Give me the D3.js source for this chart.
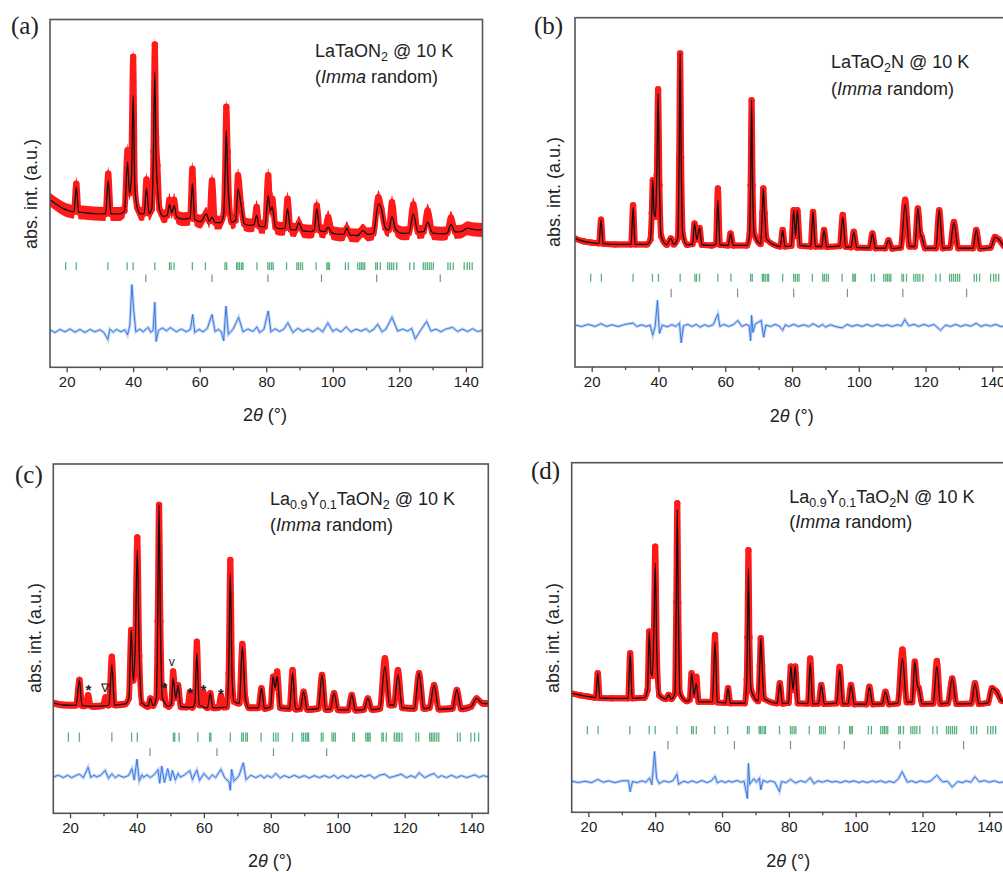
<!DOCTYPE html>
<html>
<head>
<meta charset="utf-8">
<script src="https://cdn.jsdelivr.net/npm/d3@7/dist/d3.min.js"></script>
<style>
  body { margin: 0; background: #fff; }
  svg { display: block; }
  text { font-family: "Liberation Sans", Arial, sans-serif; fill: #222; }
  .plabel { font-family: "Liberation Serif", "DejaVu Serif", serif; font-size: 25px; }
</style>
</head>
<body>
<svg id="chart" width="1003" height="872"></svg>
<script>
// ---- axis ticks ----
const xTicksMajor = [20, 40, 60, 80, 100, 120, 140];
const xTicksMinor = [30, 50, 70, 90, 110, 130];

// ---- reflection markers (2theta) ----
const greenTicks = [19.7, 22.9, 32.4, 38.2, 40.0, 46.5, 50.9, 51.4, 52.3, 57.8, 61.7, 67.6, 68.1,
  71.1, 71.5, 72.0, 72.6, 73.0, 77.2, 80.5, 81.0, 81.6, 82.1, 86.1, 89.2, 89.7, 90.3, 90.9, 95.0,
  98.2, 98.6, 99.0, 103.8, 104.7, 107.5, 108.1, 108.6, 109.1, 109.6, 112.9, 113.4, 114.3, 116.5,
  117.1, 117.7, 118.3, 119.2, 123.1, 124.4, 127.2, 127.8, 128.4, 129.0, 129.6, 130.2, 134.6, 135.3,
  136.2, 139.5, 140.4, 141.1, 141.9];
const greenTicksC = [19.5, 22.8, 32.5, 38.4, 40.1, 50.9, 51.3, 52.6, 58.2, 61.7, 62.1, 67.9, 71.3,
  71.8, 72.5, 73.0, 77.1, 80.8, 81.5, 82.2, 86.5, 89.3, 89.8, 90.4, 90.9, 91.3, 95.1, 95.6, 98.3,
  98.8, 99.3, 104.5, 105.0, 108.4, 108.9, 109.3, 109.7, 113.2, 113.6, 114.5, 116.9, 117.5, 118.0,
  118.5, 119.2, 123.4, 124.2, 127.5, 128.0, 128.5, 129.0, 129.6, 130.2, 135.8, 136.6, 139.8, 140.9, 142.1];
const greyTicks = [43.8, 63.7, 80.5, 96.6, 113.2, 132.3];
const greyTicksC = [43.9, 63.9, 80.8, 96.7];

// ---- (a) LaTaON2 ----
const aCalc = [[15,48.2],[17,46.8],[19,45.6],[21,44.9],[22.2,44.7],[22.9,51.8],[23.6,44.6],[25,44.5],
  [28,44.2],[31.7,44.1],[32.5,53.7],[33.3,44.1],[36,44.1],[37.4,45],[38.3,59.0],[38.9,50],[39.5,55],
  [40.0,78.2],[40.5,52],[41.2,46],[42.2,44.1],[43.3,44.2],[44.0,51.5],[44.8,44.2],[45.6,45.5],[46.1,62],
  [46.5,84.9],[46.9,60],[47.3,52],[47.9,45.5],[49,43.4],[50.2,43.6],[50.9,46.8],[51.6,44.5],[52.3,46.5],
  [53.1,43.2],[55,42.6],[57.1,42.8],[57.8,52.8],[58.5,42.6],[60.3,41.9],[62.0,44.1],[62.9,42.0],
  [63.7,43.2],[64.6,41.6],[66.3,41.6],[67.2,44],[67.6,55],[68.0,68.1],[68.4,55],[68.8,48],[69.6,41.7],
  [70.8,42.2],[71.5,51.3],[72.4,47.0],[73.4,41.2],[75,40.8],[76.3,41],[77.1,43.7],[77.9,40.5],
  [79.6,40.4],[80.6,49.4],[81.2,45],[81.8,46.1],[82.8,40.2],[84.5,39.8],[85.6,40],[86.4,45.6],
  [87.3,39.6],[88.8,39.5],[89.8,41.5],[91,39.2],[93.5,39.0],[94.4,39.5],[95.2,45.6],[96.1,39.3],
  [97.6,39.0],[98.6,40.3],[99.8,38.6],[102.5,38.2],[103.4,38.3],[104.2,40.0],[105.2,38.0],[107.5,37.9],
  [109,39.3],[110.5,38.2],[112.2,38.5],[113.7,47.0],[114.6,45.6],[115.8,40.0],[116.8,39.5],[117.8,43.4],
  [118.9,39.6],[121,38.5],[122.9,38.6],[124.2,44.1],[125.6,38.9],[127.3,39.0],[128.5,41.7],[130,38.6],
  [133,38.4],[134.4,38.6],[135.5,41.1],[136.8,38.9],[138.5,39.0],[140.5,40.0],[142.5,39.6],[145,39.5]];
const aObs = [[22.9,52.8],[32.5,55.7],[38.3,62.4],[39.5,62],[40.0,89.3],[44.0,54.0],[46.5,92.8],
  [46.9,66],[47.3,58],[50.9,48.2],[52.3,48.2],[57.8,57.1],[63.7,53.7],[68.0,74.9],[68.4,62],[71.5,55.2],
  [77.1,46.1],[80.6,55.2],[81.8,48.5],[86.4,48.5],[95.2,46.5],[98.6,43.2],[113.7,48.9],[117.8,47.5],
  [124.2,46.8],[128.5,45.1],[135.5,43.0]];
const aDiff = [[15,10.8],[16.5,10.0],[18,10.9],[19.5,10.2],[21,11.0],[22.5,10.1],[24,10.9],[25.5,10.0],
  [27,10.9],[28.5,10.2],[30,10.8],[31.2,10.0],[32.4,8.0],[33,11],[34,10.1],[35,10.9],[36.3,10.2],
  [37.5,10.8],[38.3,9.3],[39.0,12],[39.6,23.8],[40.2,16],[40.8,10.2],[42,11.0],[43,10.2],[44.5,11.5],
  [45.3,10.1],[46.0,10.6],[46.5,18.7],[46.9,7.4],[47.6,10.6],[48.8,11.3],[50,10.5],[51.2,11.4],[53,10.2],
  [54.5,11.0],[56,10.2],[57.2,10.9],[57.9,15.2],[58.5,10.0],[59.8,10.9],[61,10.2],[62.3,11.2],[63.7,15.2],
  [64.6,10.3],[65.6,10.9],[66.5,10.2],[67.2,7.6],[67.9,17.6],[68.6,9.5],[70,10.9],[71.7,14.4],[73,10.2],
  [74.5,11.0],[76,10.3],[77.2,11.6],[78,10.0],[79.3,10.9],[80.6,16.2],[81.4,10.2],[82.7,11.1],[84,10.3],
  [85.3,11.0],[86.5,12.8],[88,10.0],[89.5,11.2],[91,10.3],[92.5,11.0],[94,10.2],[95.5,11.3],[97,10.2],
  [98.5,12.8],[100,10.3],[101,11.0],[102.5,10.2],[104,11.6],[105.5,10.2],[107,11.0],[108.5,10.4],
  [110,11.1],[111,10.2],[112.3,10.9],[113.5,12.4],[114.8,10.2],[116,11.0],[117.8,14.4],[119.5,10.4],
  [121,11.0],[122.5,10.4],[123.7,11.2],[124.8,8.2],[126.5,10.8],[128.2,13.2],[129.5,10.4],[131,11.0],
  [132.5,10.2],[134,11.0],[136,11.5],[137.5,10.3],[139,11.0],[140.5,10.3],[142,11.1],[143.5,10.3],[145,10.6]];

// ---- (b) LaTaO2N ----
const bCalc = [[15,36.8],[17.5,36.0],[20,35.6],[22.2,35.4],[22.8,42.2],[23.4,35.3],[27,35.1],[31.8,35.1],
  [32.4,45.7],[33.0,35.1],[36.5,35.1],[37.6,36.5],[38.0,44],[38.3,53.5],[38.7,44],[39.1,43],[39.5,55],
  [39.9,78.3],[40.3,52],[40.8,37.5],[42.5,35.0],[43.7,36.8],[44.6,35.1],[45.8,37],[46.2,60],[46.5,89.8],
  [46.8,60],[47.3,38],[48.5,35.0],[50.2,35.2],[50.8,41.1],[51.5,36.5],[52.3,39.8],[53.0,35],[56,34.8],
  [57.2,35.2],[57.8,47.8],[58.4,35.0],[60.9,34.8],[61.6,38.2],[62.4,34.8],[66.5,34.8],[67.3,38],
  [67.6,52],[67.9,76.4],[68.2,52],[68.7,38],[70.6,35.2],[71.1,44],[71.4,51.1],[71.8,44],[72.4,36.5],
  [76.5,34.5],[77.2,39.2],[77.9,34.5],[79.8,34.7],[80.5,44.9],[81.05,37.5],[81.6,44.9],[82.4,34.8],
  [85.6,34.5],[86.3,44.4],[87.0,34.5],[88.9,34.5],[89.6,39.2],[90.4,34.4],[94.3,34.6],[95.2,43.0],
  [96.1,34.4],[97.7,34.3],[98.5,38.7],[99.4,34.2],[103.2,34.1],[104.1,38.2],[105.0,34.0],[107.9,34.0],
  [108.9,36.3],[110,33.9],[112.6,34.2],[113.9,46.6],[115.2,34.5],[116.8,34.5],[117.7,45.4],[118.5,38],
  [118.9,37.2],[119.9,34.0],[123.1,34.0],[124.1,44.9],[125.2,34.0],[127.3,34.2],[128.5,41.5],[129.8,34.0],
  [134.2,34.0],[135.2,39.2],[136.3,33.9],[139.5,34.2],[140.8,37.2],[142,36.5],[143.5,34.6],[145,34.2]];
const bObs = [[32.4,46.3],[39.9,79.5],[57.8,51.1],[95.2,43.5],[113.9,47.9]];
const bDiff = [[15,12.0],[17,11.6],[19,12.2],[21,11.6],[22.8,12.4],[24.5,11.6],[26,12.1],[28,11.6],
  [30,12.2],[32.4,12.6],[33.5,11.6],[35,12.1],[36.3,11.6],[37.5,12.0],[38.3,9.1],[39.0,11.5],[39.7,19.1],
  [40.3,9.6],[41.2,12],[42.6,11.5],[44,12.1],[45.2,11.6],[46.3,12.6],[46.8,6.9],[47.5,11.8],[48.8,12.2],
  [50,11.6],[51.3,12.2],[52.5,11.4],[53.8,12.1],[55,11.6],[56.4,12.1],[57.8,15.2],[58.4,11.6],[59.6,12.2],
  [61,11.6],[62.4,12.1],[63.8,13.3],[65,11.6],[66.2,12.2],[67.2,11.8],[67.6,7.5],[67.9,14.8],[68.3,9.9],
  [69,12.3],[70.8,13.3],[71.5,8.5],[72.2,12],[73.6,11.6],[75,12.2],[76.2,11.7],[77.2,10.5],[78,12.1],
  [79,11.6],[80.5,12.2],[82,11.6],[83.5,12.1],[85,11.6],[86.3,12.4],[88,11.5],[89.2,12.2],[90,11.4],
  [91.5,12.1],[93,11.6],[95,11.2],[96.5,12.2],[98,11.6],[99.5,12.1],[101,11.6],[102.5,12.2],[104,11.6],
  [105.5,12.2],[107,11.7],[108.5,12.1],[110,11.6],[111.5,12.1],[112.8,11.8],[113.8,13.6],[115,11.8],
  [116.5,12.2],[118,11.6],[119.5,12.2],[121,11.7],[122.5,12.2],[124.5,10.5],[126,12],[127.5,11.6],
  [129,12.2],[130.5,11.6],[132,12.1],[133.5,11.7],[135.2,12.5],[136.6,11.6],[138,12.1],[139.5,11.7],
  [141,12.2],[142.5,11.6],[145,11.9]];

// ---- (c) La0.9Y0.1TaON2 ----
const cCalc = [[15,31.6],[18,31.0],[21.8,30.9],[22.8,38.2],[23.6,30.8],[27,30.6],[31.6,30.9],[32.5,42.5],
  [33.3,31.0],[36.5,31.3],[37.6,33],[38.3,52.5],[38.9,38],[39.5,48],[40.1,75.4],[40.7,45],[41.5,31.5],
  [43.3,30.6],[44.0,32.9],[44.8,30.8],[45.8,33],[46.2,55],[46.6,88.3],[47.0,55],[47.6,33],[49.5,30.6],
  [50.3,31.5],[50.8,38.6],[51.6,33],[52.3,36.7],[53.1,30.5],[56.5,30.3],[57.3,31.5],[57.9,45.8],
  [58.6,31],[61.1,30.2],[61.9,34.4],[62.7,30.2],[66.8,30.4],[67.4,40],[67.9,68.7],[68.4,40],[69.0,32],
  [70.6,31.5],[71.5,47.7],[72.4,33],[73.4,30.2],[76.3,30.2],[77.2,35.8],[78.1,30.0],[79.9,30.4],
  [80.7,39.1],[81.3,36],[81.9,39.1],[82.8,30.2],[85.6,30.0],[86.5,40.1],[87.4,29.8],[88.8,29.9],
  [89.8,34.8],[90.9,29.7],[94.2,30],[95.3,39.6],[96.4,29.7],[97.8,29.8],[98.9,34.4],[100.1,29.6],
  [103.1,29.6],[104.2,33.9],[105.3,29.5],[107.8,29.7],[109,32.9],[110.2,29.7],[112.6,30],[114.1,42.0],
  [115.5,31],[116.8,31],[118,39.6],[119.3,30.2],[122.9,30],[124.3,40.1],[125.7,30],[127.4,30.2],
  [128.8,36.7],[130.2,29.8],[134.3,30],[135.6,35.3],[136.9,29.9],[139.8,30.5],[141.5,32.9],[143.2,31.5],
  [145,31.4]];
const cObs = [[24.6,30.8],[25.4,33.8],[26.2,30.7],[29.8,30.8],[30.6,33.2],[31.2,31.0],[32.5,44.8],
  [40.1,79.0],[47.9,36.5],[48.7,31],[50.8,40.6],[55.1,30.4],[55.8,34.6],[56.5,30.3],[57.9,49.1],
  [59.3,31],[59.9,34.5],[60.5,30.5],[64.4,30.3],[65.1,33.6],[65.8,30.4],[67.9,72.5],[71.5,48.5],
  [81.9,40.6],[86.5,41],[114.1,44.4],[118,41.0]];
const cDiff = [[15,10.4],[16.5,10.9],[18,10.2],[19.3,10.9],[20.5,10.2],[21.7,10.8],[22.8,11.2],[24,10.2],
  [25.4,13.2],[26.2,10.3],[27.2,10.9],[28,10.4],[29.2,10.9],[30.5,12.3],[31.5,10.0],[32.5,11.3],
  [33.5,10.2],[34.5,10.9],[36,10.3],[37.5,10.8],[38.5,12.8],[39.2,9.5],[40.0,15.5],[40.7,9.2],[41.5,11],
  [42,10.3],[43,11.0],[44,10.2],[45.2,11.1],[46.3,12.5],[46.8,8.6],[47.4,13.5],[48.2,8.8],[49.2,12.8],
  [50.0,9.3],[50.6,12.3],[51.5,9.5],[52.3,11.4],[53,10.3],[54.4,11.1],[55.8,12.2],[56.6,9.6],[57.2,11.0],
  [57.9,12.4],[58.7,9.4],[60,11.4],[61.5,9.8],[62.5,11.0],[63.5,10.2],[65.1,12.6],[66.2,10.2],[67.5,9.0],
  [67.9,6.6],[68.3,12.6],[69,9.2],[70.5,10.8],[71.8,14.5],[72.6,9.6],[74,10.9],[75.5,10.2],[77,10.9],
  [78,10.1],[79,10.8],[80.3,10.2],[81.5,11.4],[82.8,10.1],[84,10.8],[85.5,10.2],[87,10.9],[88.5,10.2],
  [90,10.8],[91.5,10.1],[93,10.8],[94.5,10.2],[96,10.8],[97.5,10.2],[99,10.9],[100,10.0],[101.5,10.8],
  [103,10.1],[104,10.8],[105.5,10.2],[107,10.9],[108,10.4],[109.5,11.0],[111,10.0],[112.5,10.9],
  [114,11.2],[115.5,10.2],[117,10.6],[119,11.2],[120.5,10.2],[122,10.8],[123.2,10.2],[124.3,11.6],
  [126,10.2],[127.4,10.9],[128.8,11.4],[130,10.2],[131,10.8],[132.5,10.2],[134,10.9],[135.5,10.2],
  [137,10.8],[138.5,10.2],[140,10.7],[141,11.0],[142.3,10.3],[143.5,10.8],[145,10.4]];
// impurity markers in (c): [2theta, intensity, symbol]
const cMarks = [[25.5,35.5,"*"],[30.5,35.8,"\u2207"],[48.2,36.1,"*"],[50.4,43.2,"v"],[55.9,34.6,"*"],
  [59.9,35.3,"*"],[65.1,34.4,"*"]];

// ---- (d) La0.9Y0.1TaO2N ----
const dCalc = [[15,34.0],[17.5,33.5],[20,33.1],[22.2,32.8],[22.8,39.8],[23.4,32.7],[27,32.6],[31.9,32.6],
  [32.5,45.5],[33.1,32.6],[36.8,32.8],[37.7,35],[38.2,51.7],[38.7,40],[39.1,39],[39.6,52],[40.0,71.2],
  [40.5,45],[41.2,33.5],[43.2,32.4],[44.0,33.6],[44.8,32.4],[45.9,34],[46.3,60],[46.6,86.5],[46.9,60],
  [47.4,34],[49.5,31.8],[50.3,32.2],[50.9,39.8],[51.6,33.5],[52.3,36.9],[53.0,31.6],[57.1,31.6],
  [57.9,48.8],[58.6,31.5],[61.1,31.3],[61.8,35.5],[62.5,31.2],[66.8,31.2],[67.4,38],[67.6,50],
  [67.9,69.8],[68.2,50],[68.7,35],[70.8,31.8],[71.3,42],[71.6,49.8],[72.0,42],[72.6,32.5],[76.5,31.2],
  [77.3,36.9],[78.1,31.1],[79.9,31.3],[80.6,41.7],[81.25,35],[81.9,41.7],[82.7,31.2],[85.7,31.1],
  [86.4,42.6],[87.2,31.0],[88.9,31.1],[89.7,36.4],[90.6,31.0],[94.3,31.2],[95.2,40.7],[96.2,31.0],
  [97.7,31.0],[98.6,36.4],[99.6,30.9],[103.2,30.9],[104.1,35.9],[105.1,30.9],[107.9,31.0],[108.9,34.5],
  [110,30.9],[112.6,31.2],[114.0,44.0],[115.3,31.5],[116.9,31.5],[117.7,43.1],[118.5,36],[118.9,35.5],
  [119.9,31.0],[123.2,31.1],[124.3,41.7],[125.4,31.0],[127.6,31.2],[128.9,38.3],[130.2,31.0],
  [134.6,31.1],[135.7,36.9],[136.9,31.0],[139.6,31.3],[140.8,35.5],[142.2,34.5],[143.6,32],[145,31.6]];
const dObs = [[40.0,76.0],[46.6,88.4],[52.3,38.8],[57.9,50.7],[67.9,75.0],[86.4,44.0],[95.2,41.6],
  [114.0,46.6],[124.3,43.3]];
const dDiff = [[15,8.9],[17,8.5],[19,8.9],[21,8.5],[22.8,9.4],[24.5,8.6],[26,9.0],[28,8.5],[30,9.0],
  [32.0,9.0],[32.5,5.9],[33.2,8.8],[34.6,8.5],[36,9.0],[37.2,8.6],[38.3,9.8],[39.0,7.9],[39.8,17.4],
  [40.4,9.8],[41.2,8.2],[42.6,9.0],[44,8.6],[45.3,9.0],[46.5,10.9],[47.0,8.0],[48.5,8.9],[49.8,8.5],
  [51,9.0],[52.5,8.5],[54,9.1],[55.5,8.5],[56.8,9.0],[57.9,10.3],[58.6,8.4],[59.8,9.0],[61,8.5],[62,9.0],
  [63,8.6],[64.5,9.1],[65.6,8.6],[66.6,8.9],[67.6,3.9],[67.9,14.0],[68.3,8.0],[69.5,9.6],[70.3,8.6],
  [71.2,9.8],[71.6,6.4],[72.3,9.2],[73.5,8.6],[74.5,9.0],[75.8,8.6],[77.2,5.9],[77.8,8.8],[79.2,8.5],
  [80.5,9.4],[82,8.4],[83.5,9.0],[85,8.6],[86.4,9.9],[87.5,8.2],[88.8,9.0],[90,8.6],[91.5,9.1],[93,8.6],
  [94,8.9],[95.5,8.5],[97,9.0],[98,8.6],[99.5,9.0],[101,8.5],[102,8.9],[103.5,8.5],[105,9.0],[106,8.6],
  [107.5,9.0],[109,8.5],[110,8.9],[111.5,8.5],[112.8,9.6],[113.9,11.6],[115.5,8.6],[116.8,9.0],[118,8.5],
  [119.5,9.0],[121,8.6],[122.5,9.0],[124.3,10.6],[126,8.7],[127.5,8.9],[128.9,7.2],[130.5,8.8],[132,8.5],
  [133,9.0],[134.5,8.6],[135.7,10.2],[137,8.7],[138.5,9.1],[140,8.6],[141.5,9.0],[143,8.5],[145,8.8]];

// layout for each panel (pixel boxes, label spots, tick-row levels and noise band in data units)
const panels = [
  { key: "a", calc: aCalc, obs: aObs, diff: aDiff, green: greenTicks, grey: greyTicks,
    box: { l: 50, r: 482.5, t: 19.5, b: 367.3 }, noise: 2.0,
    greenRow: [28.0, 30.2], greyRow: [24.5, 26.7],
    label: [11, 34], title: [315, 57.3, 83.3], ylab: [37, 194], xlab: [265, 420.7],
    formula: [["LaTaON", 0], ["2", 1], [" @ 10 K", 0]] },
  { key: "b", calc: bCalc, obs: bObs, diff: bDiff, green: greenTicks, grey: greyTicks,
    box: { l: 575, r: 1009, t: 17.7, b: 367 }, noise: 0.8,
    greenRow: [24.4, 26.7], greyRow: [20.0, 22.4],
    label: [534, 34], title: [831, 68.3, 94.5], ylab: [560, 192], xlab: [791.7, 421.7],
    formula: [["LaTaO", 0], ["2", 1], ["N @ 10 K", 0]] },
  { key: "c", calc: cCalc, obs: cObs, diff: cDiff, green: greenTicksC, grey: greyTicksC, marks: cMarks,
    box: { l: 53.3, r: 488.3, t: 464, b: 813.3 }, noise: 1.0,
    greenRow: [20.5, 23.1], greyRow: [16.4, 18.6],
    label: [15, 482.5], title: [270, 505, 531], ylab: [40.5, 638], xlab: [270, 866.7],
    formula: [["La", 0], ["0.9", 1], ["Y", 0], ["0.1", 1], ["TaON", 0], ["2", 1], [" @ 10 K", 0]] },
  { key: "d", calc: dCalc, obs: dObs, diff: dDiff, green: greenTicks, grey: greyTicks,
    box: { l: 571.7, r: 1006, t: 462.7, b: 812.3 }, noise: 0.8,
    greenRow: [22.3, 24.7], greyRow: [18.0, 20.4],
    label: [531, 479], title: [789.3, 503.3, 528.3], ylab: [559, 638], xlab: [788.3, 866.7],
    formula: [["La", 0], ["0.9", 1], ["Y", 0], ["0.1", 1], ["TaO", 0], ["2", 1], ["N @ 10 K", 0]] }
];

const svg = d3.select("#chart");
svg.append("rect").attr("width", 1003).attr("height", 872).attr("fill", "#fff");

// observed = calculated profile with the read-off observed points replacing / added
function mergeObs(calc, obs) {
  const m = new Map(calc.map(d => [d[0], d[1]]));
  obs.forEach(d => m.set(d[0], d[1]));
  return Array.from(m.entries()).sort((p, q) => p[0] - q[0]);
}

panels.forEach(p => {
  const x = d3.scaleLinear().domain([15, 145]).range([p.box.l, p.box.r]);
  const y = d3.scaleLinear().domain([0, 100]).range([p.box.b, p.box.t]);
  const g = svg.append("g");

  g.append("clipPath").attr("id", "clip-" + p.key)
    .append("rect")
    .attr("x", p.box.l).attr("y", p.box.t)
    .attr("width", p.box.r - p.box.l).attr("height", p.box.b - p.box.t);

  const plot = g.append("g").attr("clip-path", `url(#clip-${p.key})`);
  const line = d3.line().x(d => x(d[0])).y(d => y(d[1])).curve(d3.curveMonotoneX);
  const obsData = mergeObs(p.calc, p.obs);

  // observed: red scatter band (vertical spread), line of dots
  plot.append("path").datum(obsData)
    .attr("d", d3.area().x(d => x(d[0]))
      .y0(d => y(d[1] - p.noise)).y1(d => y(d[1] + p.noise))
      .curve(d3.curveMonotoneX))
    .attr("fill", "#ff1a1a");
  plot.append("path").datum(obsData)
    .attr("d", line)
    .attr("fill", "none")
    .attr("stroke", "#ff1a1a")
    .attr("stroke-width", 6)
    .attr("stroke-linejoin", "round")
    .attr("stroke-linecap", "round");
  plot.selectAll(".dot").data(obsData).enter().append("circle")
    .attr("cx", d => x(d[0])).attr("cy", d => y(d[1]))
    .attr("r", 3.2).attr("fill", "#ff1a1a");

  // calculated
  plot.append("path").datum(p.calc)
    .attr("d", line)
    .attr("fill", "none")
    .attr("stroke", "#111")
    .attr("stroke-width", 1.3);

  // reflection markers
  plot.selectAll(".gt").data(p.green).enter().append("line")
    .attr("x1", d => x(d)).attr("x2", d => x(d))
    .attr("y1", y(p.greenRow[0])).attr("y2", y(p.greenRow[1]))
    .attr("stroke", "#2f9e5e").attr("stroke-opacity", 0.8).attr("stroke-width", 1.3);
  plot.selectAll(".yt").data(p.grey).enter().append("line")
    .attr("x1", d => x(d)).attr("x2", d => x(d))
    .attr("y1", y(p.greyRow[0])).attr("y2", y(p.greyRow[1]))
    .attr("stroke", "#8a8a8a").attr("stroke-width", 1.2);

  // difference curve
  const dline = d3.line().x(d => x(d[0])).y(d => y(d[1])).curve(d3.curveLinear);
  plot.append("path").datum(p.diff)
    .attr("d", dline).attr("fill", "none")
    .attr("stroke", "#8fb6f2").attr("stroke-opacity", 0.6).attr("stroke-width", 3);
  plot.append("path").datum(p.diff)
    .attr("d", dline).attr("fill", "none")
    .attr("stroke", "#2f6fdc").attr("stroke-width", 0.9);

  // impurity markers
  if (p.marks) {
    plot.selectAll(".mk").data(p.marks).enter().append("text")
      .attr("x", d => x(d[0])).attr("y", d => y(d[1]))
      .attr("text-anchor", "middle").attr("dominant-baseline", "central")
      .style("font-size", d => d[2] === "*" ? "15px" : "12px")
      .style("font-weight", d => d[2] === "*" ? "bold" : "normal")
      .text(d => d[2]);
  }

  // frame
  g.append("rect")
    .attr("x", p.box.l).attr("y", p.box.t)
    .attr("width", p.box.r - p.box.l).attr("height", p.box.b - p.box.t)
    .attr("fill", "none").attr("stroke", "#555").attr("stroke-width", 1.6);

  // x axis
  const ax = g.append("g").attr("transform", `translate(0,${p.box.b})`)
    .call(d3.axisBottom(x).tickValues(xTicksMajor).tickSize(5).tickPadding(4));
  ax.select(".domain").remove();
  ax.selectAll(".tick line").attr("stroke", "#444").attr("stroke-width", 1.3);
  ax.selectAll(".tick text").style("font-size", "15px").attr("fill", "#222")
    .style("font-family", "'Liberation Sans', Arial, sans-serif");
  const mx = g.append("g").attr("transform", `translate(0,${p.box.b})`)
    .call(d3.axisBottom(x).tickValues(xTicksMinor).tickSize(3).tickFormat(""));
  mx.select(".domain").remove();
  mx.selectAll(".tick line").attr("stroke", "#444").attr("stroke-width", 1.3);

  // axis titles
  const xt = g.append("text").attr("x", p.xlab[0]).attr("y", p.xlab[1])
    .attr("text-anchor", "middle").style("font-size", "18px");
  xt.append("tspan").text("2");
  xt.append("tspan").style("font-style", "italic").text("\u03B8");
  xt.append("tspan").text(" (\u00B0)");

  g.append("text")
    .attr("transform", `translate(${p.ylab[0]},${p.ylab[1]}) rotate(-90)`)
    .attr("text-anchor", "middle").style("font-size", "18px")
    .text("abs. int. (a.u.)");

  // panel letter
  g.append("text").attr("class", "plabel")
    .attr("x", p.label[0]).attr("y", p.label[1])
    .text(`(${p.key})`);

  // sample annotation
  const t1 = g.append("text").attr("x", p.title[0]).attr("y", p.title[1]).style("font-size", "18px");
  p.formula.forEach(([s, sub], i) => {
    const prevSub = i > 0 && p.formula[i - 1][1];
    const ts = t1.append("tspan").text(s);
    if (sub) ts.attr("dy", prevSub ? 0 : 4).style("font-size", "12.5px");
    else if (prevSub) ts.attr("dy", -4);
  });
  const t2 = g.append("text").attr("x", p.title[0]).attr("y", p.title[2]).style("font-size", "18px");
  t2.append("tspan").text("(");
  t2.append("tspan").style("font-style", "italic").text("Imma");
  t2.append("tspan").text(" random)");
});
</script>
</body>
</html>
